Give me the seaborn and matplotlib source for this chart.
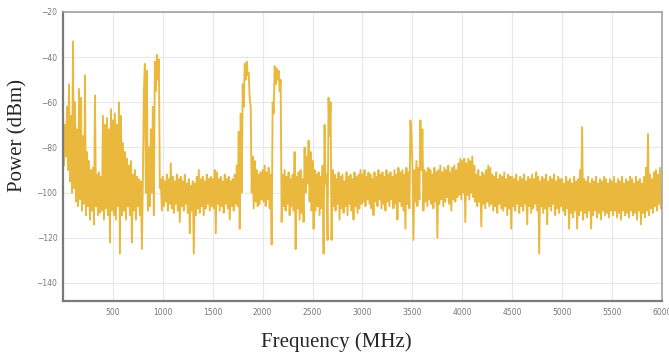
import numpy as np
import pandas as pd
import seaborn as sns
import matplotlib.pyplot as plt

# --- spectrum: one upper and one lower value per 20 MHz bin ---
freq_start = 0
bin_mhz = 20

hi = [
    # 0 - 480
    -64, -70, -62, -52, -66, -33, -60, -72, -54, -58, -75, -48, -82, -86, -90,
    -89, -57, -92, -91, -93, -66, -70, -67, -72, -63,
    # 500 - 980
    -68, -65, -70, -60, -66, -78, -82, -85, -88, -86, -92, -90, -93, -94, -95,
    -94, -43, -46, -80, -72, -62, -42, -39, -41, -94,
    # 1000 - 1480
    -93, -95, -92, -94, -87, -93, -95, -92, -94, -93, -95, -92, -96, -94, -97,
    -95, -96, -93, -90, -94, -93, -95, -92, -94, -93,
    # 1500 - 1980
    -94, -90, -91, -94, -93, -95, -92, -94, -93, -95, -94, -92, -88, -73, -65,
    -52, -43, -42, -47, -62, -84, -86, -90, -92, -91,
    # 2000 - 2480
    -90, -88, -91, -89, -92, -60, -44, -45, -46, -50, -92, -90, -93, -91, -94,
    -92, -82, -93, -91, -90, -94, -80, -84, -77, -82,
    # 2500 - 2980
    -86, -90, -92, -91, -93, -88, -70, -92, -58, -60, -90, -92, -94, -91, -93,
    -92, -95, -91, -93, -92, -94, -91, -93, -92, -90,
    # 3000 - 3480
    -92, -90, -93, -91, -92, -94, -91, -93, -90, -92, -91, -93, -90, -92, -91,
    -93, -90, -92, -89, -91, -90, -92, -89, -91, -68,
    # 3500 - 3980
    -88, -90, -86, -89, -68, -72, -90, -91, -89, -90, -92, -89, -91, -90, -88,
    -91, -89, -90, -88, -91, -89, -88, -90, -87, -85,
    # 4000 - 4480
    -86, -85, -87, -85, -86, -84, -88, -92, -90, -93, -91, -92, -90, -88, -89,
    -92, -93, -91, -94, -92, -93, -91, -94, -92, -93,
    # 4500 - 4980
    -93, -94, -92, -95, -93, -94, -92, -95, -93, -94, -92, -94, -91, -93, -95,
    -93, -94, -92, -95, -93, -94, -92, -95, -93, -94,
    # 5000 - 5480
    -94, -96, -93, -95, -94, -96, -93, -95, -94, -90, -71, -94, -95, -93, -96,
    -94, -95, -93, -96, -94, -95, -93, -94, -96, -94,
    # 5500 - 5980
    -95, -93, -96, -94, -95, -93, -96, -94, -95, -93, -94, -96, -93, -95, -94,
    -96, -93, -89, -74, -92, -94, -91, -90, -92, -89,
]

lo = [
    # 0 - 480
    -88, -84, -90, -95, -100, -98, -104, -106, -103, -108, -105, -110, -106, -112, -108,
    -114, -106, -110, -109, -108, -112, -107, -110, -122, -108,
    # 500 - 980
    -110, -112, -106, -127, -110, -108, -112, -106, -110, -122, -108, -112, -106, -110, -125,
    -55, -100, -108, -106, -100, -110, -55, -50, -98, -108,
    # 1000 - 1480
    -106, -104, -108, -105, -107, -109, -105, -108, -113, -106, -108, -105, -109, -118, -108,
    -127, -110, -107, -109, -106, -110, -107, -105, -108, -106,
    # 1500 - 1980
    -107, -118, -105, -108, -106, -109, -105, -107, -112, -106, -108, -105, -106, -116, -100,
    -62, -50, -48, -58, -100, -107, -104, -106, -105, -103,
    # 2000 - 2480
    -104, -106, -103, -107, -123, -65, -52, -50, -55, -113, -106, -108, -105, -110, -106,
    -108, -125, -107, -112, -109, -113, -100, -96, -104, -108,
    # 2500 - 2980
    -116, -108, -106, -110, -107, -127, -96, -121, -75, -121, -106, -108, -105, -112, -107,
    -109, -106, -110, -105, -108, -112, -106, -109, -107, -105,
    # 3000 - 3480
    -104, -106, -103, -105, -107, -110, -104, -106, -103, -107, -105, -108, -104, -106, -103,
    -107, -105, -112, -104, -106, -108, -116, -105, -107, -74,
    # 3500 - 3980
    -121, -104, -106, -103, -90, -108, -104, -106, -103, -105, -107, -104, -120, -105, -103,
    -106, -104, -102, -105, -108, -103, -104, -102, -101, -103,
    # 4000 - 4480
    -100, -113, -101, -103, -100, -102, -104, -106, -104, -115, -105, -107, -104, -106, -105,
    -108, -106, -109, -105, -107, -108, -106, -110, -107, -116,
    # 4500 - 4980
    -106, -108, -105, -109, -106, -108, -105, -114, -106, -109, -107, -105, -108, -127, -106,
    -109, -107, -114, -106, -108, -105, -110, -107, -109, -106,
    # 5000 - 5480
    -108, -110, -107, -116, -109, -111, -108, -116, -110, -108, -112, -109, -111, -108, -116,
    -110, -108, -111, -109, -112, -108, -110, -109, -111, -108,
    # 5500 - 5980
    -110, -108, -111, -109, -112, -108, -110, -109, -111, -108, -110, -109, -112, -108, -114,
    -109, -111, -108, -110, -107, -109, -106, -108, -105, -107,
]

x_ticks = [500, 1000, 1500, 2000, 2500, 3000, 3500, 4000, 4500, 5000, 5500, 6000]
y_ticks = [-20, -40, -60, -80, -100, -120, -140]

# upper value at the bin start, lower value half a bin later -> one zig-zag trace
n = len(hi)
bins = freq_start + bin_mhz * np.arange(n)
df = pd.DataFrame({
    'freq': np.column_stack([bins, bins + bin_mhz / 2]).ravel(),
    'power': np.column_stack([hi, lo]).ravel(),
})

sns.set_style("whitegrid")
fig = plt.figure(figsize=(6.69, 3.56), dpi=100)
ax = fig.add_axes([0.0942, 0.1545, 0.8953, 0.8118])

sns.lineplot(data=df, x='freq', y='power', estimator=None, sort=False,
             color='#E9B83C', linewidth=1.35, ax=ax)

ax.set_xlim(0, 6000)
ax.set_ylim(-148, -20)
ax.set_xticks(x_ticks)
ax.set_yticks(y_ticks)
ax.tick_params(axis='both', length=0, labelsize=5.5, labelcolor='#777777')
ax.tick_params(axis='x', pad=5)
ax.tick_params(axis='y', pad=4)
ax.grid(True, color='#e8e8e8', linewidth=0.8)

for side in ['left', 'bottom']:
    ax.spines[side].set_color('#7a7a7a')
    ax.spines[side].set_linewidth(1.6)
for side in ['top', 'right']:
    ax.spines[side].set_color('#9a9a9a')
    ax.spines[side].set_linewidth(1.1)

ax.set_xlabel('Frequency (MHz)', fontsize=15, family='Liberation Serif', va='center')
ax.set_ylabel('Power (dBm)', fontsize=15, family='Liberation Serif', va='center')
ax.xaxis.set_label_coords(0.456, -0.141)
ax.yaxis.set_label_coords(-0.076, 0.572)

fig.savefig('out.png', dpi=100)
